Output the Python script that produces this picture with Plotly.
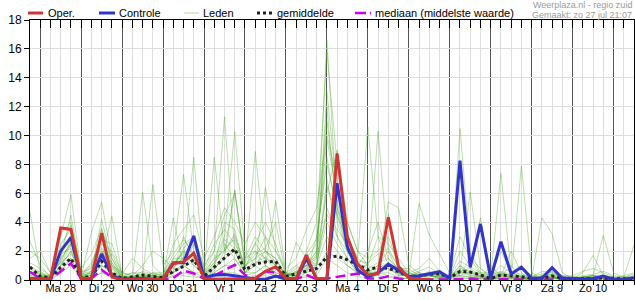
import plotly.graph_objects as go
import pandas as pd

# ---------------- data ----------------
start_time = "2025-07-27 18:00"
n_steps = 60
times = pd.date_range(start_time, periods=n_steps, freq="6h")
day_labels = ["Ma 28", "Di 29", "Wo 30", "Do 31", "Vr 1", "Za 2", "Zo 3",
              "Ma 4", "Di 5", "Wo 6", "Do 7", "Vr 8", "Za 9", "Zo 10"]
day_centers = pd.date_range("2025-07-28 12:00", periods=len(day_labels), freq="D")

oper = [0.1, 0.05, 0.05, 3.6, 3.5, 0.1, 0.1, 3.25, 0.2, 0.02,
        0.02, 0.02, 0.02, 0.05, 1.15, 1.25, 1.85, 0.1, 0.05, 0.05,
        0.05, 0.05, 0.1, 0.6, 0.92, 0.1, 0.1, 1.73, 0.05, 0.1,
        8.77, 3.0, 1.1, 0.35, 0.46, 4.34, 0.92, 0.15, 0.05, 0.05]

controle = [0.1, 0.05, 0.05, 2.0, 2.95, 0.1, 0.1, 1.8, 0.3, 0.05,
            0.1, 0.1, 0.05, 0.05, 1.2, 1.2, 3.05, 0.15, 0.35, 0.38,
            0.3, 0.15, 0.05, 0.05, 0.28, 0.05, 0.05, 1.5, 0.1, 0.05,
            6.7, 2.3, 0.7, 0.2, 0.5, 1.1, 0.7, 0.25, 0.28, 0.42,
            0.58, 0.12, 8.26, 0.88, 3.88, 0.12, 2.65, 0.42, 0.88, 0.12,
            0.12, 0.85, 0.12, 0.12, 0.07, 0.1, 0.28, 0.05, 0.05, 0.15]

gemiddelde = [0.9, 0.25, 0.15, 0.88, 1.5, 0.2, 0.2, 1.3, 0.5, 0.1,
              0.2, 0.35, 0.25, 0.15, 0.6, 0.95, 1.4, 0.25, 0.9, 1.5,
              2.15, 0.7, 1.1, 1.25, 1.3, 0.25, 0.45, 0.6, 0.8, 1.6,
              1.65, 1.4, 1.05, 0.7, 0.9, 0.8, 0.58, 0.23, 0.28, 0.4,
              0.45, 0.15, 0.6, 0.55, 0.35, 0.1, 0.35, 0.3, 0.23, 0.12,
              0.12, 0.28, 0.12, 0.1, 0.08, 0.1, 0.15, 0.1, 0.08, 0.12]

mediaan = [0.57, 0.1, 0.05, 0.6, 1.15, 0.1, 0.1, 0.7, 0.2, 0.02,
           0.02, 0.03, 0.03, 0.02, 0.15, 0.65, 0.45, 0.1, 0.3, 0.7,
           1.05, 0.35, 0.1, 0.6, 0.5, 0.05, 0.05, 0.35, 0.05, 0.1,
           0.2, 0.35, 0.45, 0.1, 0.1, 0.25, 0.1, 0.02, 0.02, 0.03,
           0.03, 0.02, 0.05, 0.1, 0.05, 0.02, 0.05, 0.03, 0.02, 0.02,
           0.02, 0.03, 0.02, 0.02, 0.02, 0.02, 0.03, 0.02, 0.02, 0.02]

leden = [
    [4.7, 0.5, 0.1, 1.5, 2.5, 0.3, 0.5, 2.0, 0.8, 0.1, 0, 0.2, 0.3, 0.1, 1.0, 2.0, 1.5, 0.3, 1.0, 2.5, 1.5,
     0.5, 1.0, 2.0, 1.5, 0.2, 0.5, 1.0, 2.0, 16.6, 5.0, 2.0, 1.0, 0.5, 1.0, 2.0, 0.5, 0.2, 0.3, 0.5, 0.3,
     0.1, 1.0, 0.3, 0.2, 0.1, 0.2, 0.1, 0.1, 0, 0.1, 0.3, 0.1, 0, 0.1, 0.2, 0.1, 0, 0.1, 0.1],
    [2.7, 1.0, 0.2, 2.0, 3.0, 0.2, 0.3, 1.5, 4.4, 0.3, 0.2, 0.1, 0.2, 0.2, 4.3, 1.0, 0.5, 0.5, 0.8, 1.5, 6.2,
     1.0, 2.0, 1.0, 0.5, 0.3, 0.2, 2.0, 4.0, 15.8, 8.0, 3.0, 1.0, 1.0, 0.5, 0.8, 0.3, 0.3, 0.5, 0.3, 0.1,
     0.2, 0.3, 0.6, 0.2, 0.1, 0.1, 0.2, 0.1, 0, 0, 0.1, 0.2, 0, 0, 0.1, 0.3, 0.2, 0, 0.1],
    [1.5, 2.0, 0.5, 3.0, 5.9, 0.5, 1.0, 3.0, 1.0, 0.2, 0.1, 6.1, 1.0, 0.3, 1.5, 2.5, 3.0, 1.0, 2.0, 11.3, 2.0,
     0.5, 1.5, 3.0, 1.0, 0.3, 1.0, 1.5, 2.5, 9.7, 6.0, 4.0, 2.0, 1.5, 2.0, 3.0, 1.0, 0.5, 0.3, 0.5, 0.2,
     0.1, 10.5, 2.0, 0.5, 0.5, 0.3, 1.0, 0.2, 0.1, 0.2, 0.5, 0.2, 0.1, 0.2, 0.3, 0.2, 0.1, 0.2, 0.2],
    [0.8, 0.3, 0.1, 1.0, 2.0, 0.2, 3.3, 5.4, 1.5, 0.3, 0.5, 0.3, 6.6, 1.0, 2.0, 7.3, 2.0, 0.5, 1.5, 3.0, 10.3,
     2.0, 1.0, 0.5, 0.3, 0.2, 0.5, 1.0, 1.5, 12.0, 4.0, 2.0, 0.5, 0.3, 0.5, 1.0, 0.5, 0.2, 0.3, 0.5, 0.3,
     0.1, 0.5, 6.1, 0.8, 0.2, 0.3, 0.2, 0.1, 0.1, 0.1, 0.2, 0.1, 0, 0.1, 0.1, 0.1, 0, 0.1, 0.1],
    [0.5, 0.2, 0.3, 2.5, 3.5, 0.2, 0.5, 2.5, 2.0, 0.5, 0.3, 0.2, 0.5, 0.5, 1.0, 1.5, 8.5, 0.5, 8.5, 2.0, 3.0,
     1.0, 8.9, 2.0, 1.0, 0.5, 1.0, 0.5, 3.0, 8.0, 5.0, 3.0, 1.5, 10.6, 3.0, 1.0, 0.5, 0.3, 0.5, 0.3, 0.5,
     0.2, 2.0, 1.0, 4.3, 0.5, 0.5, 0.3, 0.2, 0.1, 0.2, 0.1, 0.1, 0, 0, 0.1, 0.2, 0.1, 0.1, 0.1],
    [1.0, 0.5, 0.2, 1.5, 4.5, 0.5, 0.8, 2.0, 1.0, 0.2, 0.5, 0.5, 0.3, 0.2, 0.5, 3.0, 1.5, 0.3, 1.0, 4.0, 3.5,
     0.5, 1.0, 6.4, 2.0, 0.5, 0.3, 1.0, 2.0, 6.0, 9.0, 4.0, 2.0, 1.0, 10.3, 2.0, 1.0, 0.5, 0.2, 0.3, 0.2,
     0.2, 1.0, 0.5, 0.3, 0.2, 7.4, 0.5, 0.2, 0.2, 0.1, 0.2, 0.1, 0.1, 0.1, 0.2, 0.1, 0.1, 0, 0.1],
    [0.3, 0.2, 0.1, 0.5, 1.5, 0.1, 0.2, 1.0, 0.5, 0.1, 0.1, 0.1, 0.2, 0.1, 0.5, 1.0, 0.5, 0.2, 0.5, 1.0, 1.5,
     0.3, 0.5, 1.0, 5.5, 0.5, 0.2, 0.5, 1.0, 3.0, 2.0, 1.0, 0.5, 0.5, 0.3, 4.6, 0.5, 0.3, 0.2, 0.3, 0.1,
     0.1, 0.3, 0.2, 0.1, 0.1, 0.2, 0.1, 7.9, 0.5, 0.1, 0.2, 0.1, 0.1, 0.2, 0.1, 0.1, 0.1, 0.1, 0.1],
    [0.2, 0.1, 0.1, 1.0, 2.5, 0.2, 0.3, 1.5, 0.8, 0.1, 0.1, 0.2, 0.1, 0.2, 1.5, 1.5, 1.0, 0.5, 1.5, 2.0, 6.2,
     1.0, 1.5, 2.0, 1.5, 0.3, 2.6, 1.5, 1.0, 5.0, 3.0, 2.0, 1.0, 0.5, 1.0, 5.4, 5.0, 1.0, 0.5, 0.3, 0.2,
     0.2, 0.5, 0.3, 0.2, 0.1, 0.3, 0.2, 0.1, 0.1, 4.3, 3.2, 0.5, 0.1, 0.2, 0.3, 0.2, 0.1, 0.1, 0.2],
    [0.4, 0.3, 0.2, 2.0, 3.0, 0.3, 0.5, 3.5, 1.5, 0.2, 0.2, 0.3, 0.2, 0.3, 1.0, 2.0, 1.0, 0.3, 0.8, 1.5, 2.0,
     0.5, 0.5, 1.0, 0.5, 0.3, 0.5, 1.0, 1.0, 7.0, 3.0, 1.5, 0.5, 0.5, 0.5, 1.0, 0.3, 0.3, 5.3, 3.1, 1.8,
     0.5, 0.5, 0.5, 0.3, 0.2, 0.5, 0.3, 0.2, 0.1, 0.2, 0.3, 0.1, 0.1, 0.2, 0.3, 3.1, 0.5, 0.2, 2.4],
    [0.6, 0.4, 0.1, 1.0, 2.0, 0.2, 0.3, 1.0, 0.5, 0.2, 0.3, 0.2, 0.5, 0.3, 0.5, 1.0, 2.5, 0.2, 0.5, 1.0, 1.0,
     1.5, 2.0, 1.5, 1.0, 0.5, 0.3, 0.8, 1.2, 4.0, 2.5, 1.5, 0.5, 0.3, 0.5, 0.5, 0.2, 0.1, 0.2, 0.3, 0.2,
     0.2, 0.3, 0.2, 0.1, 1.0, 0.3, 2.0, 0.5, 0.1, 0.2, 0.1, 0.1, 0.1, 0.5, 1.7, 0.3, 0.1, 0.1, 0.1],
    [0.2, 0.1, 0.1, 0.8, 1.5, 0.1, 0.2, 0.5, 0.3, 0.1, 0.1, 0.1, 0.1, 0.1, 0.3, 0.5, 0.3, 0.2, 0.3, 0.5, 0.5,
     0.2, 0.3, 0.5, 0.3, 0.1, 0.2, 0.3, 0.5, 2.0, 1.5, 1.0, 0.5, 0.3, 0.5, 0.3, 0.1, 0.1, 0.1, 0.1, 0.1,
     0.1, 0.2, 0.1, 0.1, 0.1, 0.1, 0.1, 0.1, 0, 0.1, 0.1, 0.1, 0, 0.1, 0.1, 0.1, 0, 0, 0.1],
    [0.1, 0.1, 0, 0.5, 1.0, 0.1, 0.1, 0.5, 0.2, 0, 0, 0.1, 0.1, 0.1, 0.2, 0.3, 0.2, 0.1, 0.2, 0.3, 0.3,
     0.1, 0.2, 0.3, 0.2, 0.1, 0.1, 0.2, 0.3, 1.5, 1.0, 0.5, 0.2, 0.2, 0.3, 0.2, 0.1, 0.1, 0.1, 0.1, 0,
     0, 0.1, 0.1, 0, 0, 0.1, 0, 0, 0, 0, 0.1, 0, 0, 0, 0.1, 0, 0, 0, 0],
    [1.2, 0.8, 0.3, 1.8, 2.2, 0.4, 0.6, 1.8, 1.2, 0.2, 0.2, 0.4, 0.3, 0.2, 1.2, 1.8, 1.4, 0.4, 1.2, 2.2, 2.8,
     0.6, 1.2, 1.6, 1.0, 0.3, 0.6, 1.2, 1.6, 4.5, 3.5, 2.5, 1.2, 0.8, 1.2, 1.5, 0.6, 0.3, 0.4, 0.4, 0.3,
     0.2, 0.8, 0.6, 0.4, 0.2, 0.4, 0.3, 0.2, 0.1, 0.3, 0.4, 0.2, 0.1, 0.2, 0.3, 0.2, 0.1, 0.1, 0.2],
    [0.4, 0.6, 0.2, 3.2, 4.0, 0.3, 1.2, 2.8, 2.5, 0.4, 1.5, 0.8, 0.4, 0.3, 2.5, 3.5, 4.5, 1.5, 3.0, 5.0, 4.0,
     2.5, 4.0, 3.0, 2.0, 0.8, 1.5, 3.5, 5.0, 10.0, 7.0, 3.0, 1.5, 1.0, 3.0, 2.5, 1.5, 0.5, 0.8, 1.5, 0.6,
     0.3, 3.0, 1.5, 0.8, 0.3, 1.0, 0.5, 0.4, 0.2, 0.6, 0.5, 0.3, 0.3, 0.6, 0.8, 0.5, 0.2, 0.3, 0.5],
    [2.0, 1.5, 0.5, 1.2, 1.8, 0.8, 1.8, 3.6, 1.0, 0.5, 0.3, 1.0, 2.0, 1.5, 0.8, 2.2, 3.0, 0.8, 2.5, 3.5, 2.5,
     1.2, 2.5, 4.0, 2.5, 0.3, 0.8, 1.0, 0.8, 6.5, 4.5, 2.0, 1.0, 2.0, 4.0, 1.5, 0.8, 0.8, 0.3, 0.6, 0.4,
     0.2, 0.4, 1.5, 0.4, 0.3, 2.0, 0.5, 1.0, 0.3, 0.4, 0.6, 0.3, 0.2, 0.3, 0.4, 0.6, 0.3, 0.2, 0.4],
    [0.3, 0.2, 0.4, 1.2, 2.8, 0.2, 0.4, 1.2, 1.8, 0.3, 0.1, 0.2, 0.3, 0.2, 0.5, 1.2, 2.0, 0.6, 2.0, 4.5, 6.0,
     1.5, 3.0, 2.0, 1.2, 0.4, 0.3, 0.6, 1.5, 13.0, 6.0, 3.0, 0.8, 0.5, 0.6, 0.8, 0.4, 0.2, 0.2, 0.3, 0.2,
     0.2, 0.6, 0.4, 0.2, 0.1, 0.3, 0.2, 0.1, 0.1, 0.2, 0.3, 0.1, 0.1, 0.1, 0.2, 0.1, 0.1, 0.1, 0.1],
    [0.9, 0.4, 0.2, 2.2, 3.8, 0.3, 0.9, 2.2, 0.9, 0.1, 0.2, 0.6, 0.4, 0.4, 1.8, 2.8, 1.8, 0.4, 1.2, 2.8, 2.2,
     0.9, 1.8, 2.2, 4.0, 0.3, 0.4, 1.8, 2.8, 8.5, 4.5, 2.8, 1.3, 1.2, 1.8, 2.2, 0.9, 0.4, 0.6, 0.9, 0.4,
     0.3, 1.3, 0.9, 0.5, 0.3, 0.6, 0.4, 0.3, 0.2, 0.3, 0.4, 0.2, 0.1, 0.2, 0.3, 0.2, 0.1, 0.2, 0.3],
    [0.6, 0.2, 0.1, 1.4, 2.6, 0.2, 0.6, 4.2, 1.2, 0.2, 0.2, 0.3, 0.2, 0.2, 0.8, 1.6, 1.2, 0.3, 0.6, 2.0, 3.2,
     0.8, 2.6, 1.4, 0.8, 0.2, 0.6, 0.8, 1.8, 11.0, 5.5, 2.0, 0.8, 0.6, 0.8, 1.2, 0.5, 0.2, 0.3, 0.4, 0.3,
     0.1, 0.6, 0.8, 0.3, 0.1, 0.4, 0.3, 0.2, 0.1, 0.2, 0.2, 0.1, 0.1, 0.1, 0.2, 0.1, 0.1, 0.1, 0.2],
]

y_ticks = [0, 2, 4, 6, 8, 10, 12, 14, 16, 18]
source_text = "Weerplaza.nl - regio zuid"
made_text = "Gemaakt: zo 27 jul 21:07"

# ---------------- styles ----------------
FONT = "Arial, 'Liberation Sans', sans-serif"
C_OPER = "#d03535"
C_CTRL = "#3333cc"
C_LID = "rgba(75,165,40,0.38)"
C_MEAN = "#222222"
C_MED = "#cc00ee"
MED_DASH = "10px,5px"

W, H = 635, 300
ML, MR, MT, MB = 30, 1, 20, 20


def px_x(px):
    return (px - ML) / (W - ML - MR)


def px_y(py):
    return (H - MB - py) / (H - MT - MB)


fig = go.Figure()

for member in leden:
    fig.add_trace(go.Scatter(
        x=times, y=member, mode="lines", name="Leden",
        line=dict(color=C_LID, width=1), showlegend=False, hoverinfo="skip"))

fig.add_trace(go.Scatter(
    x=times, y=mediaan, mode="lines", name="mediaan (middelste waarde)",
    line=dict(color=C_MED, width=2.5, dash=MED_DASH), showlegend=False))
fig.add_trace(go.Scatter(
    x=times, y=gemiddelde, mode="lines", name="gemiddelde",
    line=dict(color=C_MEAN, width=3, dash="dot"), showlegend=False))
fig.add_trace(go.Scatter(
    x=times, y=controle, mode="lines", name="Controle",
    line=dict(color=C_CTRL, width=3), showlegend=False))
fig.add_trace(go.Scatter(
    x=times[:len(oper)], y=oper, mode="lines", name="Oper.",
    line=dict(color=C_OPER, width=3), showlegend=False))

# helper traces so the overlay axes (labels / top ticks) are drawn
for ax in ("x2", "x3"):
    fig.add_trace(go.Scatter(x=[times[0]], y=[0], xaxis=ax, mode="markers",
                             marker=dict(opacity=0), showlegend=False,
                             hoverinfo="skip"))

# ---------------- legend (drawn row at the top) ----------------
legend_items = [
    ("Oper.", dict(color=C_OPER, width=3), 28, 43, 47),
    ("Controle", dict(color=C_CTRL, width=3), 99, 115, 118),
    ("Leden", dict(color="rgba(75,165,40,0.45)", width=1), 184, 199, 202),
    ("gemiddelde", dict(color=C_MEAN, width=3, dash="dot"), 257, 272, 276),
    ("mediaan (middelste waarde)", dict(color=C_MED, width=2.5, dash="11px,4px,2px,20px"), 355, 371, 374),
]
LEG_Y = 13
shapes = []
annotations = []
for label, ln, x0, x1, xt in legend_items:
    shapes.append(dict(type="line", xref="paper", yref="paper",
                       x0=px_x(x0), x1=px_x(x1), y0=px_y(LEG_Y), y1=px_y(LEG_Y),
                       line=ln, layer="above"))
    annotations.append(dict(text=label, xref="paper", yref="paper",
                            x=px_x(xt - 1), y=px_y(LEG_Y), xanchor="left",
                            yanchor="middle", showarrow=False,
                            font=dict(size=11, color="black", family=FONT)))

annotations.append(dict(text=source_text, xref="paper", yref="paper",
                        x=px_x(634), y=px_y(5.5), xanchor="right", yanchor="middle",
                        showarrow=False, font=dict(size=9, color="#9a9a9a", family=FONT)))
annotations.append(dict(text=made_text, xref="paper", yref="paper",
                        x=px_x(634), y=px_y(14.5), xanchor="right", yanchor="middle",
                        showarrow=False, font=dict(size=9, color="#9a9a9a", family=FONT)))

x_range = [times[0], times[-1]]
fig.update_layout(
    width=W, height=H,
    margin=dict(l=ML, r=MR, t=MT, b=MB),
    paper_bgcolor="white", plot_bgcolor="white",
    font=dict(family=FONT, size=11, color="black"),
    showlegend=False,
    xaxis=dict(type="date", range=x_range, showgrid=True, gridcolor="#555555",
               gridwidth=1, tick0="2025-07-28", dtick=86400000,
               showticklabels=False, ticks="outside", ticklen=4, tickcolor="black",
               minor=dict(dtick=21600000, tick0="2025-07-28", showgrid=True,
                          gridcolor="#dddddd", gridwidth=1, ticks="outside",
                          ticklen=4, tickcolor="black"),
               showline=True, linecolor="black", linewidth=1, mirror=True,
               zeroline=False),
    xaxis2=dict(type="date", overlaying="x", anchor="y", side="bottom",
                range=x_range, tickmode="array", tickvals=day_centers,
                ticktext=day_labels, showgrid=False, ticks="", showline=False,
                tickfont=dict(size=11), zeroline=False),
    xaxis3=dict(type="date", overlaying="x", anchor="y", side="top",
                range=x_range, tickmode="array", tickvals=times,
                showticklabels=False, showgrid=False, ticks="inside",
                ticklen=8, tickcolor="black", showline=True, linecolor="black",
                zeroline=False),
    yaxis=dict(range=[0, 18], tickmode="array", tickvals=y_ticks,
               showgrid=True, gridcolor="#dddddd", gridwidth=1,
               ticks="outside", ticklen=5, tickcolor="black",
               showline=True, linecolor="black", linewidth=1, mirror=True,
               zeroline=False, tickfont=dict(size=12)),
    shapes=shapes,
    annotations=annotations,
)

fig.write_html("out.html")
